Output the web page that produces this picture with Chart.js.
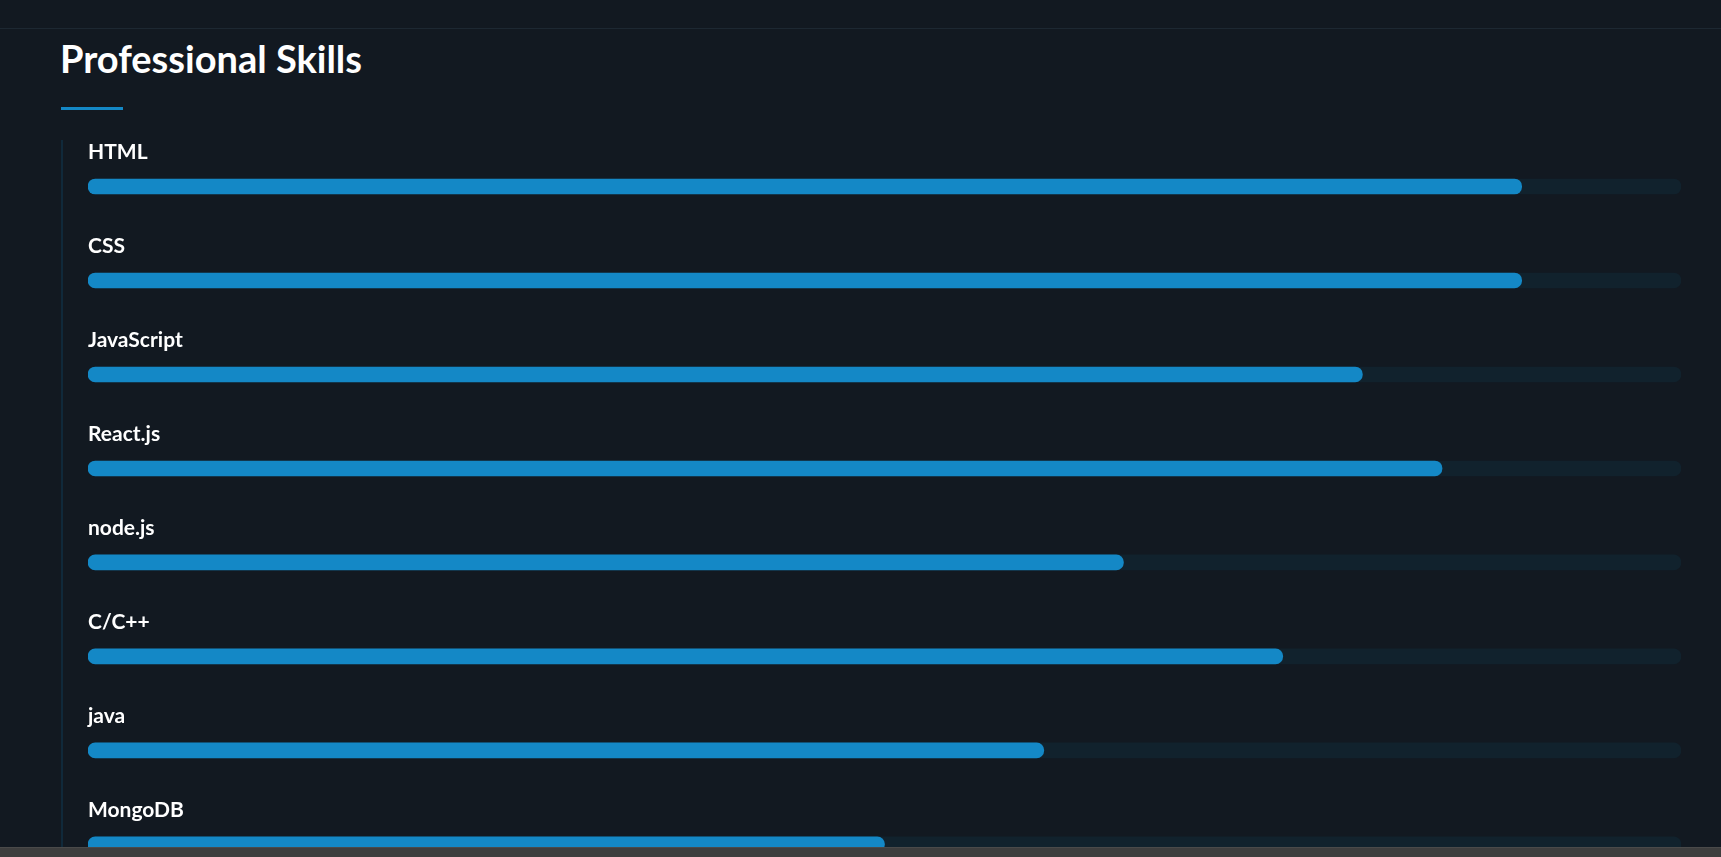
<!DOCTYPE html>
<html>
<head>
<meta charset="utf-8">
<script src="https://cdn.jsdelivr.net/npm/chart.js@4/dist/chart.umd.min.js"></script>
<style>
  html, body { margin:0; padding:0; width:1721px; height:857px; overflow:hidden; background:#121921; }
  #topline { position:absolute; left:0; top:28px; width:1721px; height:1px; background:#1d2832; }
  #title { position:absolute; left:60px; top:35px; margin:0; font-family:Lato, sans-serif; font-weight:700; font-size:38px; line-height:normal; color:#ffffff; }
  #underline { position:absolute; left:61px; top:107px; width:62px; height:3px; background:#1488c6; }
  #vline { position:absolute; left:61px; top:140px; width:2px; height:717px; background:#10293a; }
  #wrap { position:absolute; left:0; top:0; width:1721px; height:904px; }
  #bottombar { position:absolute; left:0; top:847px; width:1721px; height:10px; background:#3e3e3e; border-top:1px solid #4a4a4a; box-sizing:border-box; }
</style>
</head>
<body>
<div id="topline"></div>
<h2 id="title">Professional Skills</h2>
<div id="underline"></div>
<div id="vline"></div>
<div id="wrap"><canvas id="c"></canvas></div>
<div id="bottombar"></div>
<script>
const skills = ["HTML", "CSS", "JavaScript", "React.js", "node.js", "C/C++", "java", "MongoDB"];
const levels = [90, 90, 80, 85, 65, 75, 60, 50];
const fullTrack = [100, 100, 100, 100, 100, 100, 100, 100];

new Chart(document.getElementById('c'), {
  type: 'bar',
  data: {
    labels: skills,
    datasets: [
      {
        label: 'Level',
        data: levels,
        backgroundColor: '#1488c6',
        barThickness: 15,
        borderRadius: 7.5,
        borderSkipped: false,
        grouped: false,
        order: 0
      },
      {
        label: 'Track',
        data: fullTrack,
        backgroundColor: '#11222d',
        barThickness: 15,
        borderRadius: 7.5,
        borderSkipped: false,
        grouped: false,
        order: 1
      }
    ]
  },
  options: {
    indexAxis: 'y',
    responsive: true,
    maintainAspectRatio: false,
    animation: false,
    events: [],
    layout: { padding: { left: 88, right: 40, top: 139.5, bottom: 12.5 } },
    plugins: { legend: { display: false }, tooltip: { enabled: false }, title: { display: false } },
    scales: {
      x: { display: false, min: 0, max: 100 },
      y: {
        position: 'left',
        grid: { display: false, drawTicks: false },
        border: { display: false },
        ticks: {
          mirror: true,
          padding: 0,
          labelOffset: -34,
          color: '#ffffff',
          font: { family: 'Lato', size: 21, weight: 'bold' }
        }
      }
    }
  }
});
</script>
</body>
</html>
